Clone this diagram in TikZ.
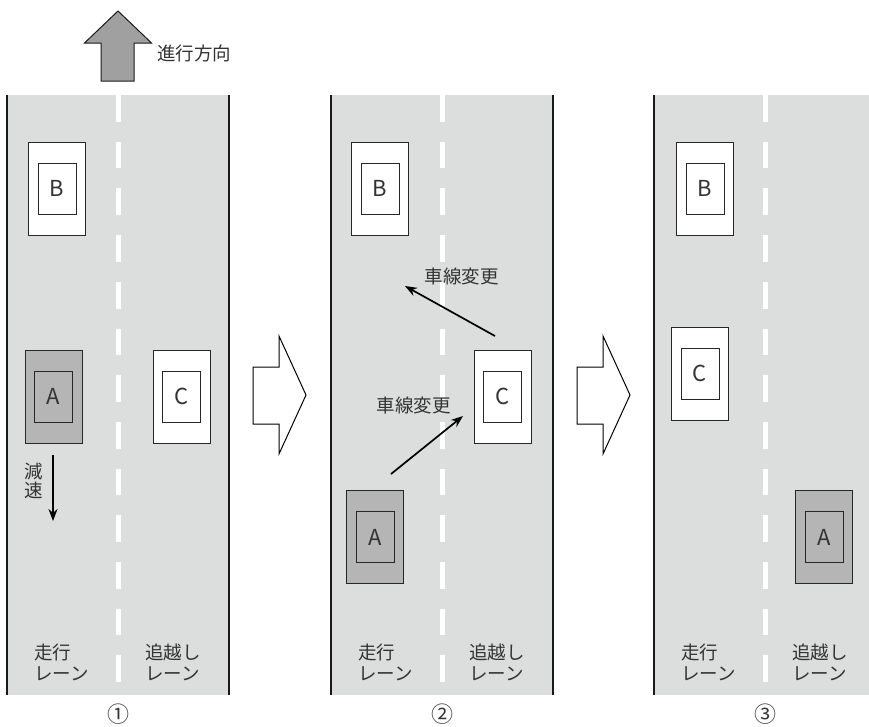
\documentclass[tikz,border=0pt]{standalone}
\usepackage{fontspec}
\setmainfont{Noto Sans CJK JP}
\usetikzlibrary{arrows.meta}
\definecolor{road}{HTML}{DCDDDD}
\definecolor{cargray}{HTML}{B5B5B5}
\definecolor{dirgray}{HTML}{A0A0A0}
\definecolor{txt}{HTML}{333333}
\begin{document}
\begin{tikzpicture}[x=1pt,y=-1pt,
  edge/.style={draw=black!90,line width=1.1pt},
  carbody/.style={draw=black!85,line width=0.9pt,minimum width=57pt,minimum height=93pt,inner sep=0pt},
  carcab/.style={draw=black!85,line width=0.9pt,minimum width=38pt,minimum height=51pt,inner sep=0pt,font=\fontsize{22}{22}\selectfont,text=txt},
  lbl/.style={text=txt,font=\fontsize{18.5}{21}\selectfont,inner sep=0pt},
  num/.style={text=txt,font=\fontsize{22}{22}\selectfont,inner sep=0pt},
  move/.style={line width=1.7pt,-{Stealth[length=12pt,width=9pt]}},
  hollow/.style={draw=black,line width=1pt,fill=white,line join=miter}
]
\useasboundingbox (0,0) rectangle (869,726);
\clip (0,0) rectangle (869,726);
% roads
\foreach \o in {0,324,647}{
  \fill[road] (\o+7,95) rectangle (\o+229,695);
  \draw[edge] (\o+7,95) -- (\o+7,695);
  \draw[edge] (\o+229,95) -- (\o+229,695);
  \foreach \k in {0,...,12}
    \fill[white] (\o+115.5,95+46.7*\k) rectangle (\o+120.5,121.7+46.7*\k);
  \node[lbl,anchor=west,align=left] (run\o) at (\o+34,662) {走行\\レーン};
  \node[lbl,anchor=west,align=left] (pass\o) at (\o+145,662) {追越し\\レーン};
}
\node[num] (n1) at (118,714) {①};
\node[num] (n2) at (442,714) {②};
\node[num] (n3) at (765,714) {③};
% direction arrow
\draw[fill=dirgray,draw=black!90,line width=1pt,line join=miter]
  (118,11) -- (151.5,43) -- (134,43) -- (134,81) -- (101,81) -- (101,43) -- (84.5,43) -- cycle;
\node[lbl,anchor=west] (dir) at (157,53) {進行方向};
% hollow step arrows
\foreach \o in {0,324}{
  \draw[hollow] (\o+253,367) -- (\o+279,367) -- (\o+279,336) -- (\o+306,395) -- (\o+279,454) -- (\o+279,424) -- (\o+253,424) -- cycle;
}
% panel 1 cars
\node[carbody,fill=white] (B1) at (57,188.5) {};
\node[carcab,fill=white] (B1c) at (B1) {B};
\node[carbody,fill=cargray] (A1) at (53.5,396.5) {};
\node[carcab,fill=cargray] (A1c) at (A1) {A};
\node[carbody,fill=white] (C1) at (181.5,396.5) {};
\node[carcab,fill=white] (C1c) at (C1) {C};
\coordinate (d1) at (53,455);
\coordinate (d2) at (53,521);
\draw[move] (d1) -- (d2);
\node[lbl,align=center,font=\fontsize{18.5}{18.5}\selectfont] (slow) at (34,481) {減\\速};
% panel 2 cars
\node[carbody,fill=white] (B2) at (380,188.5) {};
\node[carcab,fill=white] (B2c) at (B2) {B};
\node[carbody,fill=cargray] (A2) at (375,537) {};
\node[carcab,fill=cargray] (A2c) at (A2) {A};
\node[carbody,fill=white] (C2) at (502.5,396.5) {};
\node[carcab,fill=white] (C2c) at (C2) {C};
\coordinate (m1s) at (391,474);
\coordinate (m1e) at (463,416);
\draw[move] (m1s) -- (m1e);
\node[lbl] (lc1) at (413.5,405) {車線変更};
\coordinate (m2s) at (495,336);
\coordinate (m2e) at (405,286);
\draw[move] (m2s) -- (m2e);
\node[lbl] (lc2) at (461.5,276) {車線変更};
% panel 3 cars
\node[carbody,fill=white] (B3) at (705,188.5) {};
\node[carcab,fill=white] (B3c) at (B3) {B};
\node[carbody,fill=white] (C3) at (700,373.5) {};
\node[carcab,fill=white] (C3c) at (C3) {C};
\node[carbody,fill=cargray] (A3) at (824,537) {};
\node[carcab,fill=cargray] (A3c) at (A3) {A};
\end{tikzpicture}
\end{document}
